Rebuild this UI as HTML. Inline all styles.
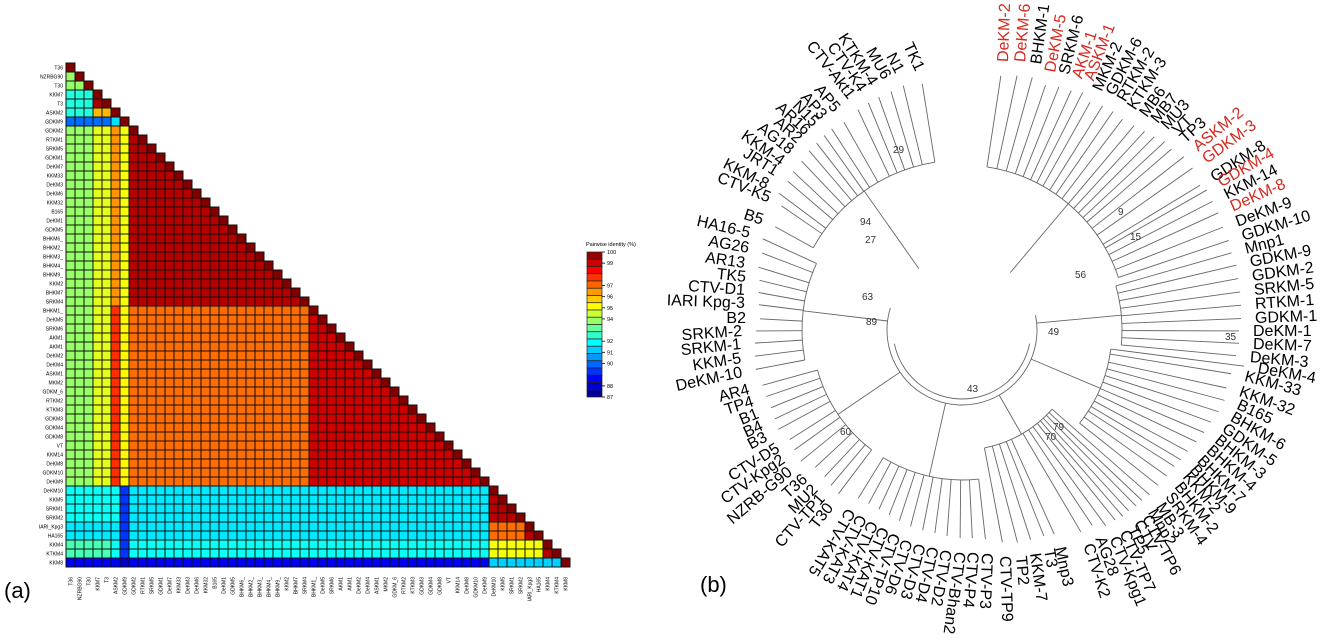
<!DOCTYPE html>
<html><head><meta charset="utf-8"><style>
html,body{margin:0;padding:0;background:#fff;}
svg{display:block;font-family:"Liberation Sans",sans-serif;}
</style></head><body>
<svg id="fig" width="1325" height="642" viewBox="0 0 1325 642" xmlns="http://www.w3.org/2000/svg">
<g id="heat"></g>
<g id="legend"></g>
<g id="tree"></g>
<text x="4" y="598" font-size="22">(a)</text>
<text x="700" y="592" font-size="22">(b)</text>
</svg>
<script>
const NS="http://www.w3.org/2000/svg";
const names=["T36","NZRBG90","T30","KKM7","T3","ASKM2","GDKM9","GDKM2","RTKM1","SRKM5","GDKM1","DeKM7","KKM33","DeKM3","DeKM6","KKM32","B165","DeKM1","GDKM5","BHKM6_","BHKM2_","BHKM3_","BHKM4_","BHKM9_","KKM2","BHKM7","SRKM4","BHKM1_","DeKM5","SRKM6","AKM1","AKM1","DeKM2","DeKM4","ASKM1","MKM2","GDKM_6","RTKM2","KTKM3","GDKM3","GDKM4","GDKM8","VT","KKM14","DeKM8","GDKM10","DeKM9","DeKM10","KKM5","SRKM1","SRKM2","IARI_Kpg3","HA165","KKM4","KTKM4","KKM8"];
const groupOf=[0,0,0,1,1,2,3,4,4,4,4,4,4,4,4,4,4,4,4,4,4,4,4,4,4,4,4,5,5,5,5,5,5,5,5,5,5,5,5,5,5,5,5,5,5,5,5,6,6,6,6,7,7,8,8,9];
// group-vs-group pairwise identity (%), lower triangle
const groupIdentity=[
 [93.8],
 [92.3,99.5],
 [92.3,96,100],
 [90,90,91.5,100],
 [93.8,94.8,96.5,95,99.3],
 [93.8,94.8,97.8,95.2,97,99],
 [92,92,92,89.3,91.6,91.6,99.3],
 [91.6,91.6,91.6,89.3,91.6,91.6,97,99.3],
 [92.8,92.8,92,89.3,92,92,95,95,99.3],
 [88.5,88.5,88.5,88,88.5,88.5,91.3,91.3,91.3,100]];
const legendTicks=[100,99,97,96,95,94,92,91,90,88,87];
const vmin=87,vmax=100;
function jet(v){let t=Math.max(0,Math.min(1,(v-vmin)/(vmax-vmin)));
 const c=x=>Math.round(255*Math.max(0,Math.min(1,1.5-Math.abs(x))));
 return `rgb(${c(4*t-3)},${c(4*t-2)},${c(4*t-1)})`;}
const X0=66,Y0=63,CS=9;
const xCell=i=>X0+i*CS, yCell=i=>Y0+i*CS;
const heat=document.getElementById('heat');
for(let r=0;r<names.length;r++){
 for(let c=0;c<=r;c++){
  let gr=groupOf[r],gc=groupOf[c];
  let v=(r===c)?100:(gr>=gc?groupIdentity[gr][gc]:groupIdentity[gc][gr]);
  const el=document.createElementNS(NS,'rect');
  el.setAttribute('x',xCell(c));el.setAttribute('y',yCell(r));
  el.setAttribute('width',CS);el.setAttribute('height',CS);
  el.setAttribute('fill',jet(v));el.setAttribute('stroke','#111');el.setAttribute('stroke-width','1');
  
  
  heat.appendChild(el);
 }
 const t=document.createElementNS(NS,'text');
 t.setAttribute('x',63);t.setAttribute('y',yCell(r)+6.5);t.setAttribute('font-size','5');t.setAttribute('text-anchor','end');
 t.textContent=names[r];
 
 
 heat.appendChild(t);
 const u=document.createElementNS(NS,'text');
 u.setAttribute('font-size','5');u.setAttribute('text-anchor','end');
 u.setAttribute('transform',`translate(${xCell(r)+6.5},577) rotate(-90)`);
 u.textContent=names[r];
 
 
 heat.appendChild(u);
}
// legend
const lg=document.getElementById('legend');
const LY0=252,LY1=397,NL=20;
const ly=v=>LY0+(vmax-v)/(vmax-vmin)*(LY1-LY0);
const ttl=document.createElementNS(NS,'text');
ttl.setAttribute('x',586);ttl.setAttribute('y',246);ttl.setAttribute('font-size','5.5');
ttl.textContent='Pairwise identity (%)';


lg.appendChild(ttl);
for(let k=0;k<NL;k++){
 const v=vmax-(k+0.5)*(vmax-vmin)/NL;
 const el=document.createElementNS(NS,'rect');
 el.setAttribute('x',587);el.setAttribute('y',LY0+k*(LY1-LY0)/NL);
 el.setAttribute('width',15);el.setAttribute('height',(LY1-LY0)/NL);
 el.setAttribute('fill',jet(v));el.setAttribute('stroke','#222');el.setAttribute('stroke-width','0.7');
 
 
 lg.appendChild(el);
}
legendTicks.forEach(v=>{
 const l=document.createElementNS(NS,'line');
 l.setAttribute('x1',602);l.setAttribute('x2',605);l.setAttribute('y1',ly(v));l.setAttribute('y2',ly(v));l.setAttribute('stroke','#333');
 
 
 lg.appendChild(l);
 const t=document.createElementNS(NS,'text');
 t.setAttribute('x',607);t.setAttribute('y',ly(v)+2);t.setAttribute('font-size','5.5');t.textContent=v;
 
 
 lg.appendChild(t);
});
// dendrogram labels: text, x, y, rotation, anchor(s/e), red flag, cluster
const treeLabels=[
["DeKM-2",1003,62,-88,"s",1,0],["DeKM-6",1020,62,-85,"s",1,0],["BHKM-1",1036,64,-82,"s",0,0],["DeKM-5",1050,72,-79,"s",1,0],["SRKM-6",1064,74,-76,"s",0,0],["AKM-1",1077,78,-72,"s",1,0],["ASKM-1",1089,80,-69,"s",1,0],["MKM-2",1097,90,-66,"s",0,0],["GDKM-6",1110,94,-63,"s",0,0],["RTKM-2",1121,100,-60,"s",0,0],["KTKM-3",1131,108,-57,"s",0,0],["MB6",1143,115,-54,"s",0,0],["MB7",1154,121,-51,"s",0,0],["MU3",1164,127,-48,"s",0,0],["VT",1175,132,-45,"s",0,0],["TP3",1182,140,-42,"s",0,0],["ASKM-2",1195,148,-39,"s",1,0],["GDKM-3",1204,160,-36,"s",1,0],["GDKM-8",1212,178,-33,"s",0,0],["GDKM-4",1219,183,-30,"s",1,0],["KKM-14",1225,195,-27,"s",0,0],["DeKM-8",1231,207,-24,"s",1,0],["DeKM-9",1236,222,-20,"s",0,0],["GDKM-10",1242,236,-17,"s",0,0],
["Mnp1",1245,249,-14,"s",0,1],["GDKM-9",1250,262,-11,"s",0,1],["GDKM-2",1252,276,-8,"s",0,1],["SRKM-5",1254,290,-6,"s",0,1],["RTKM-1",1255,304,-4,"s",0,1],["GDKM-1",1255,318,-2,"s",0,1],["DeKM-1",1253,331,0,"s",0,1],["DeKM-7",1253,344,2,"s",0,1],["DeKM-3",1250,357,5,"s",0,1],
["DeKM-4",1258,368,10,"s",0,2],["KKM-33",1245,376,15,"s",0,2],["KKM-32",1240,391,20,"s",0,2],["B165",1238,404,25,"s",0,2],["BHKM-6",1232,416,30,"s",0,2],["GDKM-5",1224,427,35,"s",0,2],["BHKM-3",1217,438,39,"s",0,2],["BHKM-4",1209,448,42,"s",0,2],["BHKM-7",1200,458,45,"s",0,2],["BHKM-9",1193,467,48,"s",0,2],["KKM-2",1186,474,50,"s",0,2],["BHKM-2",1178,484,52,"s",0,2],["SRKM-4",1169,494,55,"s",0,2],
["MB-3",1160,504,58,"s",0,3],["Mnp2",1152,510,60,"s",0,3],["CTV-TP6",1146,516,62,"s",0,3],["CTV",1138,521,63,"s",0,3],["TP5",1132,527,65,"s",0,3],["CTV-TP7",1124,531,66,"s",0,3],["CTV-Kpg1",1114,537,68,"s",0,3],["AG28",1100,537,70,"s",0,3],["CTV-K2",1088,544,72,"s",0,3],["Mnp3",1060,547,78,"s",0,3],["T3",1049,549,80,"s",0,3],["KKM-7",1035,553,82,"s",0,3],["TP2",1021,556,85,"s",0,3],["CTV-TP9",1005,556,88,"s",0,3],
["CTV-P3",987,553,92,"s",0,4],["CTV-P4",973,552,95,"s",0,4],["CTV-Bhan2",960,552,98,"s",0,4],["CTV-D2",946,550,100,"s",0,4],["CTV-D4",933,547,103,"s",0,4],["CTV-D3",920,544,105,"s",0,4],["CTV-D6",907,540,108,"s",0,4],["CTV-TP10",895,534,110,"s",0,4],["CTV-KAT1",884,528,113,"s",0,4],["CTV-KAT4",873,522,115,"s",0,4],["CTV-KAT3",862,516,118,"s",0,4],["CTV-KAT5",851,510,121,"s",0,4],
["T30",830,505,-52,"e",0,5],["CTV-TP1",822,496,-48,"e",0,5],["MU2",815,487,-45,"e",0,5],["T36",805,477,-42,"e",0,5],["NZRB-G90",790,470,-40,"e",0,5],["CTV-Kpg2",783,458,-35,"e",0,5],["CTV-D5",778,447,-32,"e",0,5],["B3",766,436,-28,"e",0,5],["B4",762,425,-25,"e",0,5],["B1",758,413,-22,"e",0,5],["TP4",753,401,-18,"e",0,5],["AR4",749,389,-15,"e",0,5],
["DeKM-10",742,372,-12,"e",0,6],["KKM-5",741,358,-9,"e",0,6],["SRKM-1",741,344,-6,"e",0,6],["SRKM-2",742,331,-4,"e",0,6],["B2",746,318,0,"e",0,6],["IARI Kpg-3",745,303,2,"e",0,6],["CTV-D1",745,290,4,"e",0,6],["TK5",746,277,6,"e",0,6],["AR13",745,263,8,"e",0,6],["AG26",749,248,10,"e",0,6],["HA16-5",750,233,13,"e",0,6],
["B5",763,220,18,"e",0,7],["CTV-K5",770,198,22,"e",0,7],["KKM-8",768,185,27,"e",0,7],["JRT1",777,172,32,"e",0,7],["KKM-4",783,162,35,"e",0,7],["AG18",792,151,38,"e",0,7],["AR2",800,140,40,"e",0,7],["AR16",808,132,42,"e",0,7],["N15",816,124,45,"e",0,7],["AP3",824,117,48,"e",0,7],["AP5",837,110,50,"e",0,7],["CTV-Akt1",852,97,52,"e",0,7],["CTV-K4",863,90,55,"e",0,7],["KTKM-4",874,84,57,"e",0,7],["MU6",887,78,60,"e",0,7],["N1",900,72,62,"e",0,7],["TK1",920,70,65,"e",0,7]];
const clusterRadius=[165,160,150,120,150,150,160,170];
const CX=962,CY=330,RIN=75;
const tree=document.getElementById('tree');
function ln(x1,y1,x2,y2,name){const l=document.createElementNS(NS,'line');
 l.setAttribute('x1',x1);l.setAttribute('y1',y1);l.setAttribute('x2',x2);l.setAttribute('y2',y2);
 l.setAttribute('stroke','#666');l.setAttribute('stroke-width','0.9');
 
 
 tree.appendChild(l);}
function arc(r,a0,a1,name){const p=document.createElementNS(NS,'path');
 const x0=CX+r*Math.cos(a0),y0=CY+r*Math.sin(a0),x1=CX+r*Math.cos(a1),y1=CY+r*Math.sin(a1);
 p.setAttribute('d',`M${x0},${y0} A${r},${r} 0 ${Math.abs(a1-a0)>Math.PI?1:0} 1 ${x1},${y1}`);
 p.setAttribute('fill','none');p.setAttribute('stroke','#666');p.setAttribute('stroke-width','0.9');
 
 
 tree.appendChild(p);}
const clusterAngles={};
treeLabels.forEach(L=>{
 const [txt,x,y,rot,anc,red,cl]=L;
 const ang=Math.atan2(y-CY,x-CX);
 const a=(ang<-Math.PI/2)?ang+2*Math.PI:ang;
 (clusterAngles[cl]=clusterAngles[cl]||[]).push(a);
 const d=Math.hypot(x-CX,y-CY)-14;
 const re=clusterRadius[cl];
 ln(CX+d*Math.cos(a),CY+d*Math.sin(a),CX+re*Math.cos(a),CY+re*Math.sin(a),'branch');
 const t=document.createElementNS(NS,'text');
 t.setAttribute('font-size','16');t.setAttribute('text-anchor',anc==='s'?'start':'end');
 t.setAttribute('fill',red?'#d42a20':'#000');
 t.setAttribute('transform',`translate(${x},${y}) rotate(${rot}) translate(0,5)`);
 t.textContent=txt;
 
 
 tree.appendChild(t);
});
Object.keys(clusterAngles).forEach(k=>{
 const as=clusterAngles[k];const a0=Math.min(...as),a1=Math.max(...as),re=clusterRadius[k];
 arc(re,a0,a1,'clade-arc');
 const am=(a0+a1)/2;
 ln(CX+re*Math.cos(am),CY+re*Math.sin(am),CX+RIN*Math.cos(am),CY+RIN*Math.sin(am),'clade-stem');
});
arc(RIN,-0.2,Math.PI+0.3,'root-arc');
arc(RIN-6,0.2,Math.PI-0.2,'root-arc-inner');
const boot=[["56",1075,278],["15",1130,240],["9",1118,215],["63",862,300],["89",866,325],["49",1048,335],["43",967,392],["60",840,435],["79",1053,430],["70",1045,440],["35",1225,340],["27",865,243],["94",860,225],["29",893,153]];
boot.forEach(b=>{const t=document.createElementNS(NS,'text');
 t.setAttribute('x',b[1]);t.setAttribute('y',b[2]);t.setAttribute('font-size','10');t.setAttribute('fill','#333');t.textContent=b[0];
 
 
 tree.appendChild(t);});
</script>
</body></html>
